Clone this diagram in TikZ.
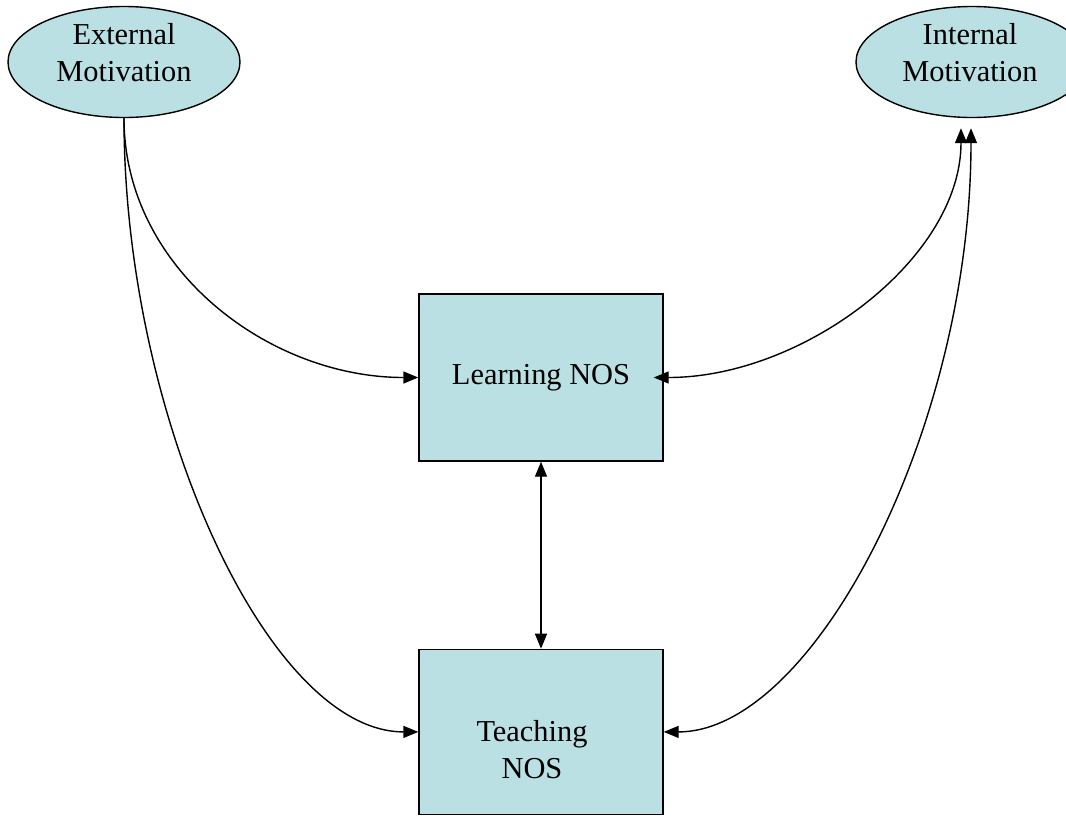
\documentclass[tikz,border=0pt]{standalone}
\usepackage{fontspec}
\setmainfont{Liberation Serif}
\usepackage{tikz}
\usetikzlibrary{positioning,arrows.meta,shapes.geometric}
\definecolor{nosfill}{RGB}{187,224,227}

\begin{document}
\begin{tikzpicture}[x=0.5pt,y=-0.5pt,node distance=93.5pt,
      every node/.style={font=\fontsize{15.2}{18.5}\selectfont,align=center},
      motiv/.style={draw,ellipse,fill=nosfill,line width=0.7pt,inner sep=0pt,minimum width=116pt,minimum height=55.5pt},
      nosbox/.style={draw,fill=nosfill,line width=0.7pt,minimum width=122pt,minimum height=83.5pt},
      >={Triangle[length=7.5pt,width=6pt]},line width=0.7pt]
      \useasboundingbox (0,0) rectangle (1066,815);
      \node[motiv] (ext) at (124,62) {};
      \node (exttxt) at (124,53) {External\\Motivation};
      \node[motiv] (int) at (972,62) {};
      \node (inttxt) at (970,53) {Internal\\Motivation};
      \node[nosbox] (learn) at (541,377.5) {Learning NOS};
      \node[nosbox,minimum height=82.5pt] (teach) [below=of learn] {};
      \node (teachtxt) at (532,750) {Teaching\\NOS};
      \coordinate (intL) at ([shift={(-11,10)}]int.south);
      \coordinate (intR) at ([shift={(-1,10)}]int.south);
      \draw[->] (ext.south) .. controls +(0,150) and +(-150,0) .. (learn.west);
      \draw[->] (ext.south) .. controls +(0,300) and +(-150,0) .. (teach.west);
      \draw[<->,shorten <=-5pt] (learn.east) .. controls +(140,0) and +(0,130) .. (intL);
      \draw[<->] (teach.east) .. controls +(150,0) and +(0,300) .. (intR);
      \draw[<->] (learn) -- (teach);
    \end{tikzpicture}
\end{document}
